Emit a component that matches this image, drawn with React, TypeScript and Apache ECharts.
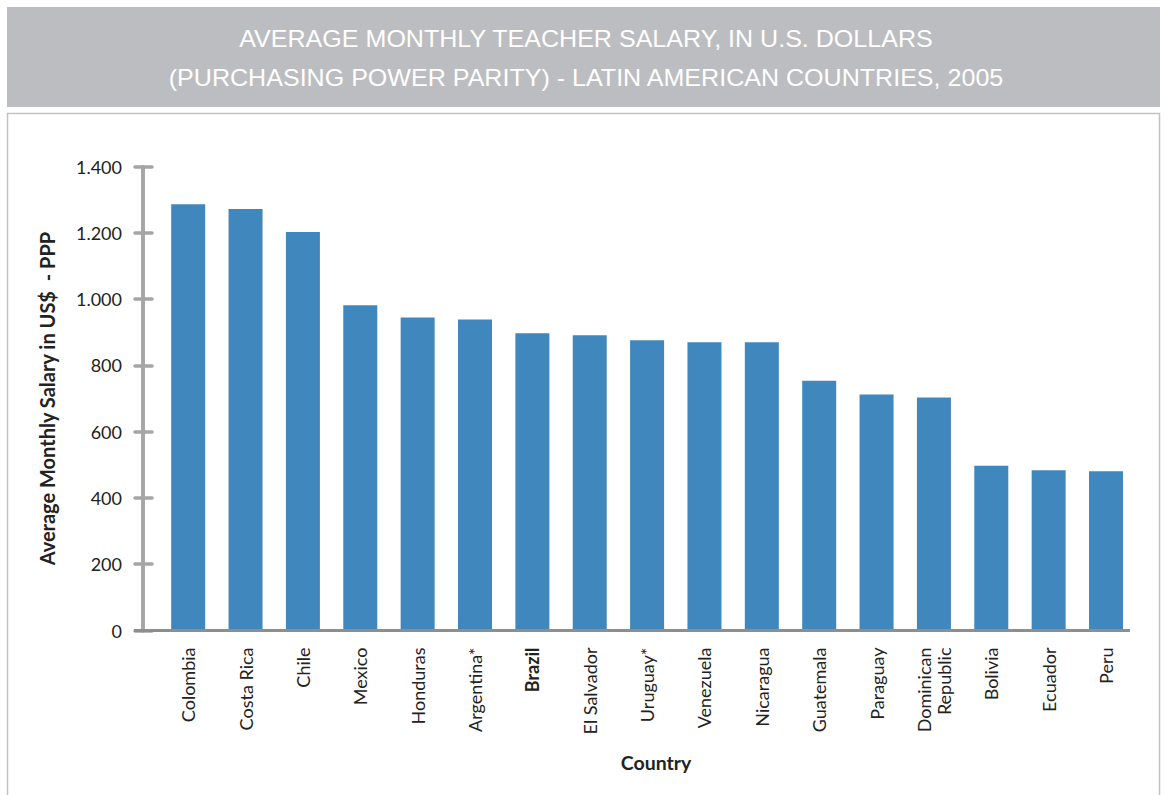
import React, { useEffect, useRef } from "react";
import * as echarts from "echarts";

const countries = [
  "Colombia", "Costa Rica", "Chile", "Mexico", "Honduras", "Argentina*", "Brazil",
  "El Salvador", "Uruguay*", "Venezuela", "Nicaragua", "Guatemala", "Paraguay",
  "Dominican\nRepublic", "Bolivia", "Ecuador", "Peru",
];
const salaries = [1287, 1272, 1203, 982, 945, 939, 897, 891, 876, 870, 870, 754, 712, 703, 497, 484, 481];
const yTicks = [0, 200, 400, 600, 800, 1000, 1200, 1400];
const titleLines = [
  "AVERAGE MONTHLY TEACHER SALARY, IN U.S. DOLLARS",
  "(PURCHASING POWER PARITY) - LATIN AMERICAN COUNTRIES, 2005",
];
const yName = "Average Monthly Salary in US$  - PPP";
const xName = "Country";
const highlighted = "Brazil";

const fmt = (v: number) => {
  const s = String(Math.round(v));
  return s.replace(/\B(?=(\d{3})+(?!\d))/g, ".");
};

export default function App() {
  const ref = useRef<HTMLDivElement>(null);
  useEffect(() => {
    document.body.style.margin = "0";
    const chart = echarts.init(ref.current!, undefined, { renderer: "svg" });
    const yMin = yTicks[0];
    const yMax = yTicks[yTicks.length - 1];
    const yInt = yTicks[1] - yTicks[0];
    const font = "Lato, 'Open Sans', sans-serif";
    const axisCommon = {
      type: "value" as const,
      min: yMin,
      max: yMax,
      interval: yInt,
      offset: 16.5,
      splitLine: { show: false },
      axisLine: { show: true, lineStyle: { color: "#A5A5A7", width: 3.5 } },
    };
    chart.setOption({
      animation: false,
      backgroundColor: "#ffffff",
      grid: { left: 159.5, right: 29.3, top: 166.7, bottom: 164.5, containLabel: false },
      graphic: [
        { type: "rect", z: -10, shape: { x: 7, y: 7, width: 1153, height: 100 }, style: { fill: "#BCBDC0" } },
        { type: "rect", z: -10, shape: { x: 7.5, y: 113.5, width: 1152, height: 720 }, style: { fill: "none", stroke: "#C3C3C3", lineWidth: 1.5 } },
        {
          type: "text", z: 10, x: 586, y: 39, scaleX: 1.09,
          style: { text: titleLines[0], fill: "#ffffff", font: "300 23px 'Liberation Sans', Arial, sans-serif", align: "center", verticalAlign: "middle" },
        },
        {
          type: "text", z: 10, x: 586, y: 78, scaleX: 1.09,
          style: { text: titleLines[1], fill: "#ffffff", font: "300 23px 'Liberation Sans', Arial, sans-serif", align: "center", verticalAlign: "middle" },
        },
        {
          type: "line", z: 10, shape: { x1: 134, y1: 630.5, x2: 1130, y2: 630.5 },
          style: { stroke: "#8E8E8E", lineWidth: 3 },
        },
      ],
      xAxis: {
        type: "category",
        data: countries,
        axisLine: { show: false },
        axisTick: { show: false },
        axisLabel: {
          interval: 0,
          rotate: 90,
          margin: 17,
          color: "#222222",
          fontFamily: font,
          fontSize: 18,
          lineHeight: 20,
          formatter: (v: string) => (v === highlighted ? `{b|${v}}` : v),
          rich: { b: { fontWeight: "bold", fontFamily: font, fontSize: 18, color: "#222222" } },
        },
        name: xName,
        nameLocation: "middle",
        nameGap: 122,
        nameTextStyle: { fontFamily: font, fontSize: 19.5, fontWeight: "bold", color: "#222222", padding: [0, 0, 0, 18] },
      },
      yAxis: [
        {
          ...axisCommon,
          axisTick: { show: true, inside: false, length: 8, lineStyle: { color: "#A5A5A7", width: 3.5, cap: "round" } },
          axisLabel: { margin: 21, color: "#222222", fontFamily: font, fontSize: 18, formatter: (v: number) => fmt(v) },
          name: yName,
          nameLocation: "middle",
          nameGap: 86,
          nameTextStyle: { fontFamily: font, fontSize: 20, fontWeight: "bold", color: "#222222" },
        },
        {
          ...axisCommon,
          position: "left",
          axisTick: { show: true, inside: true, length: 9, lineStyle: { color: "#A5A5A7", width: 3.5, cap: "round" } },
          axisLabel: { show: false },
        },
      ],
      series: [
        {
          type: "bar",
          data: salaries,
          barWidth: 34,
          itemStyle: { color: "#4087BE" },
          yAxisIndex: 0,
        },
      ],
    });
    return () => chart.dispose();
  }, []);
  return <div ref={ref} style={{ position: "absolute", left: 0, top: 0, width: 1164, height: 795 }} />;
}
